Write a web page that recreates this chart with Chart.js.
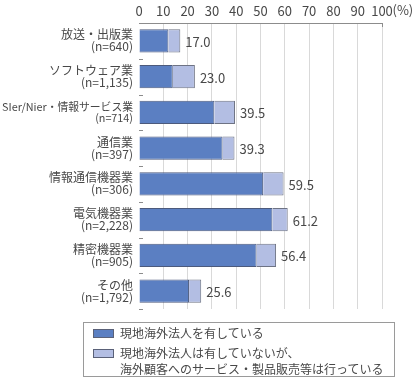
<!DOCTYPE html>
<html><head><meta charset="utf-8">
<script src="https://cdn.jsdelivr.net/npm/chart.js@4"></script>
<style>
html,body{margin:0;padding:0;background:#fff;}
#wrap{position:relative;width:418px;height:383px;}
#legend{position:absolute;left:83px;top:322px;width:312px;height:55px;border:1px solid #9a9a9a;box-sizing:border-box;font-family:"Noto Sans CJK JP",sans-serif;font-size:12px;color:#484848;}
.item{position:absolute;left:9px;display:flex;align-items:flex-start;line-height:16px;}
.sw{width:21px;height:9px;border:1px solid #5a6178;margin-top:4px;margin-right:6px;box-sizing:border-box;}
</style></head>
<body><div id="wrap"><canvas id="c" width="418" height="383"></canvas>
<div id="legend">
<div class="item" style="top:2px"><span class="sw" style="background:#5b7fc2"></span><span>現地海外法人を有している</span></div>
<div class="item" style="top:22px"><span class="sw" style="background:#b3bee3"></span><span>現地海外法人は有していないが、<br>海外顧客へのサービス・製品販売等は行っている</span></div>
</div></div>
<script>
const industries = ['放送・出版業','ソフトウェア業','SIer/Nier・情報サービス業','通信業','情報通信機器業','電気機器業','精密機器業','その他'];
const sampleSizes = ['(n=640)','(n=1,135)','(n=714)','(n=397)','(n=306)','(n=2,228)','(n=905)','(n=1,792)'];
const hasSubsidiary = [12.1, 13.9, 31.0, 34.4, 51.1, 54.9, 48.4, 20.6];
const noSubsidiaryButSells = [4.9, 9.1, 8.5, 4.9, 8.4, 6.3, 8.0, 5.0];
const totals = [17.0, 23.0, 39.5, 39.3, 59.5, 61.2, 56.4, 25.6];
const seriesNames = ['現地海外法人を有している','現地海外法人は有していないが、海外顧客へのサービス・製品販売等は行っている'];

const labels = industries.map((n,i)=>[n, sampleSizes[i]]);
const FONT = '"Noto Sans CJK JP", sans-serif';

const extras = {
  id:'extras',
  afterDatasetsDraw(chart){
    const {ctx, scales:{x,y}, chartArea:a} = chart;
    ctx.save();
    ctx.font = '13px ' + FONT;
    ctx.fillStyle = '#484848';
    ctx.textBaseline = 'middle';
    ctx.textAlign = 'left';
    totals.forEach((t,i)=>{
      ctx.fillText(t.toFixed(1), x.getPixelForValue(t)+5, y.getPixelForValue(i)+1);
    });
    ctx.strokeStyle = '#8c8c8c';
    ctx.lineWidth = 1;
    const n = industries.length;
    const h = (a.bottom - a.top)/n;
    for(let i=1;i<=n;i++){
      const yy = Math.round(a.top + h*i) + 0.5;
      ctx.beginPath(); ctx.moveTo(a.left, yy); ctx.lineTo(a.left+4, yy); ctx.stroke();
    }
    const xr = Math.round(x.getPixelForValue(100)) + 0.5;
    ctx.beginPath(); ctx.moveTo(xr, a.top); ctx.lineTo(xr, a.top+4); ctx.stroke();
    ctx.font = '13px ' + FONT;
    ctx.fillStyle = '#484848';
    ctx.textBaseline = 'middle';
    ctx.fillText('(%)', xr + 10, 10);
    ctx.restore();
  }
};

new Chart(document.getElementById('c'), {
  type:'bar',
  data:{
    labels: labels,
    datasets:[
      {label: seriesNames[0], data: hasSubsidiary, backgroundColor:'#5b7fc2', borderColor:'#4c5a7c', borderWidth:1, barPercentage:0.65, categoryPercentage:1},
      {label: seriesNames[1], data: noSubsidiaryButSells, backgroundColor:'#b3bee3', borderColor:'#6e7384', borderWidth:1, barPercentage:0.65, categoryPercentage:1}
    ]
  },
  options:{
    indexAxis:'y',
    responsive:false,
    animation:false,
    layout:{padding:{left:0,right:36,top:0,bottom:74}},
    plugins:{legend:{display:false}, tooltip:{enabled:false}},
    scales:{
      x:{
        position:'top', stacked:true, min:0, max:100,
        ticks:{stepSize:10, autoSkip:false, color:'#484848', font:{family:FONT, size:13}, padding:4, maxRotation:0,
          callback:(v)=>String(v)},
        grid:{color:(c)=> c.tick && c.tick.value===0 ? 'rgba(0,0,0,0)' : '#d9d9d9', drawTicks:false},
        border:{display:true, color:'#8c8c8c'},
        afterFit:(s)=>{s.height = 23;}
      },
      y:{
        stacked:true,
        ticks:{color:'#484848', padding:6, autoSkip:false,
          font:(c)=>({family:FONT, size: (c.index===2 ? 10.8 : 12), lineHeight:1.0})},
        grid:{display:false, drawTicks:false},
        border:{display:false},
        afterFit:(s)=>{s.width = 139;}
      }
    }
  },
  plugins:[extras]
});
</script></body></html>
